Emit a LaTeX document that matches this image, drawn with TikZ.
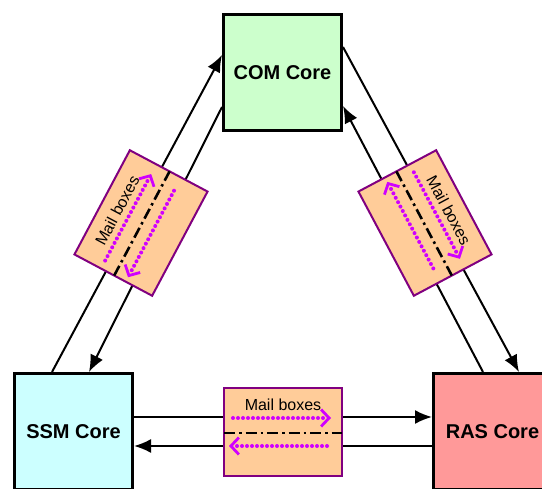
\documentclass[tikz,border=0pt]{standalone}
\usepackage{fontspec}
\setmainfont{Liberation Sans}
\usepackage{xcolor}
\usepackage{tikz}
\usetikzlibrary{arrows.meta,calc}

\definecolor{comgreen}{HTML}{CCFFCC}
\definecolor{ssmcyan}{HTML}{CCFFFF}
\definecolor{rasred}{HTML}{FF9999}
\definecolor{mailpeach}{HTML}{FFCC99}
\definecolor{mailpurple}{HTML}{800080}
\definecolor{flowmagenta}{HTML}{D000FF}

% mail box: name, x, y, angle
\newcommand{\mailbox}[4]{%
  \begin{scope}[shift={(#2,#3)}, rotate=#4, transform shape]
    \node[mbox] (#1) at (0,0) {};
    \node[mbtext] (#1t) at (0,-27) {Mail boxes};
    \draw[flow] (-50,-14) -- (48,-14);
    \draw[sepline] (-59,1) -- (59,1);
    \draw[flow] (44,14) -- (-54,14);
  \end{scope}}

\begin{document}
\begin{tikzpicture}[x=1pt, y=-1pt,
    core/.style={draw, line width=3pt, minimum width=118pt, minimum height=116pt,
      inner sep=0pt, font=\bfseries\fontsize{20}{24}\selectfont},
    link/.style={line width=2pt, -{Latex[length=17pt,width=14pt]}},
    mbox/.style={draw=mailpurple, fill=mailpeach, line width=2pt,
      minimum width=118pt, minimum height=88pt, inner sep=0pt},
    mbtext/.style={inner sep=0pt, font=\fontsize{16}{19}\selectfont},
    flow/.style={flowmagenta, line width=4pt, line cap=round,
      dash pattern=on 0pt off 5pt,
      -{Straight Barb[length=8pt,width=17pt,line width=2.8pt]}},
    sepline/.style={line width=2.6pt, dash pattern=on 11pt off 4pt on 2.5pt off 4pt}]
    \path[use as bounding box, clip] (0,0) rectangle (542,489);

    % cores
    \node[core, fill=comgreen] (com) at (282.5,72.5) {COM Core};
    \node[core, fill=ssmcyan] (ssm) at (73.5,431.5) {SSM Core};
    \node[core, fill=rasred] (ras) at (492.5,431.5) {RAS Core};

    % links between cores
    \draw[link] ([xshift=39pt]ssm.north west) -- ([yshift=-42pt]com.north west);
    \draw[link] ([yshift=-94pt]com.north west) -- ([xshift=76pt]ssm.north west);
    \draw[link] ([yshift=-34pt]com.north east) -- ([xshift=87pt]ras.north west);
    \draw[link] ([xshift=51pt]ras.north west) -- ([yshift=-93pt]com.north east);
    \draw[link] ([yshift=-45pt]ssm.north east) -- ([yshift=-45pt]ras.north west);
    \draw[link] ([yshift=-74pt]ras.north west) -- ([yshift=-74pt]ssm.north east);

    % mail boxes
    \mailbox{mbl}{141}{223}{62}
    \mailbox{mbr}{425}{223}{-62}
    \mailbox{mbh}{283}{432}{0}
\end{tikzpicture}
\end{document}
